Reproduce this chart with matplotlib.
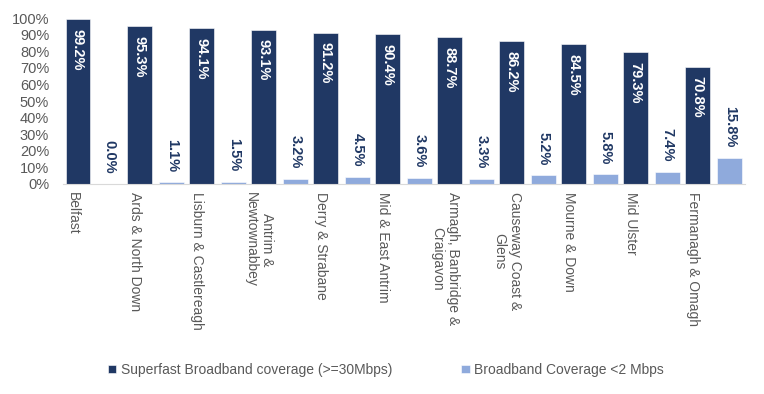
import matplotlib
matplotlib.use("Agg")
import matplotlib.pyplot as plt
import numpy as np
from matplotlib.ticker import PercentFormatter

plt.rcParams['font.family'] = ['Liberation Sans', 'DejaVu Sans']

councils = ["Belfast", "Ards & North Down", "Lisburn & Castlereagh",
            "Antrim &\nNewtownabbey", "Derry & Strabane", "Mid & East Antrim",
            "Armagh, Banbridge &\nCraigavon", "Causeway Coast &\nGlens",
            "Mourne & Down", "Mid Ulster", "Fermanagh & Omagh"]
superfast = [99.2, 95.3, 94.1, 93.1, 91.2, 90.4, 88.7, 86.2, 84.5, 79.3, 70.8]
below_2mbps = [0.0, 1.1, 1.5, 3.2, 4.5, 3.6, 3.3, 5.2, 5.8, 7.4, 15.8]

navy = "#203864"
light = "#8faadc"
grey = "#595959"

fig = plt.figure(figsize=(7.64, 3.94), dpi=100)
ax = fig.add_axes([0.0825, 0.533, 0.8925, 0.421])

x = np.arange(len(councils))
w = 0.4
b1 = ax.bar(x - 0.26, superfast, w, color=navy, edgecolor="white", linewidth=0.4,
            label="Superfast Broadband coverage (>=30Mbps)")
b2 = ax.bar(x + 0.255, below_2mbps, w, color=light, edgecolor="white", linewidth=0.4,
            label="Broadband Coverage <2 Mbps")

for rect, v in zip(b1, superfast):
    ax.annotate(f"{v:.1f}%", (rect.get_x() + rect.get_width() / 2, v),
                xytext=(0, -7), textcoords="offset points", rotation=270,
                ha="center", va="top", color="white", fontweight="bold", fontsize=10.5)
for rect, v in zip(b2, below_2mbps):
    ax.annotate(f"{v:.1f}%", (rect.get_x() + rect.get_width() / 2, v),
                xytext=(0, 7.5), textcoords="offset points", rotation=270,
                ha="center", va="bottom", color=navy, fontweight="bold", fontsize=10.5)

ax.set_xlim(-0.5, len(councils) - 0.5)
ax.set_ylim(0, 100)
ax.set_yticks(np.arange(0, 101, 10))
ax.yaxis.set_major_formatter(PercentFormatter(decimals=0))
ax.tick_params(axis="y", length=0, labelsize=10.5, labelcolor=grey, pad=10)
ax.set_xticks(x - 0.34)
ax.set_xticklabels(councils, rotation=270, fontsize=10, color=grey,
                   ha="center", va="top", multialignment="center")
ax.tick_params(axis="x", length=0, pad=6)

for s in ["top", "right", "left"]:
    ax.spines[s].set_visible(False)
ax.spines["bottom"].set_color("#d9d9d9")

fig.legend(loc="center", bbox_to_anchor=(0.505, 0.061), ncol=2, frameon=False,
           fontsize=10, handlelength=0.6, handleheight=0.6, handletextpad=0.3,
           columnspacing=5, labelcolor=grey)

fig.savefig("out.png", dpi=100)
